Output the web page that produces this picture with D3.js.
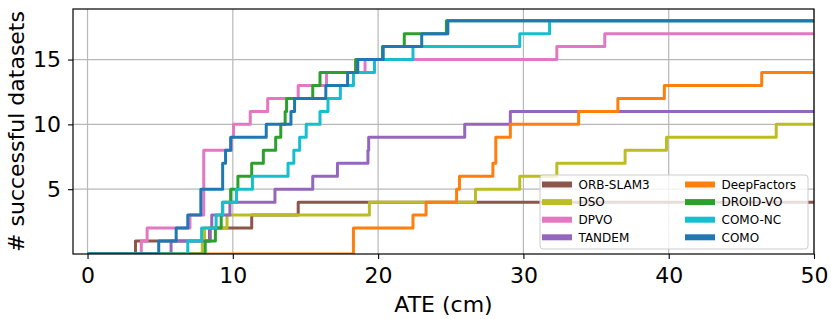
<!DOCTYPE html>
<html>
<head>
<meta charset="utf-8">
<script src="https://cdn.jsdelivr.net/npm/d3@7"></script>
<style>
  body { margin: 0; background: #fff; }
  svg { font-family: "DejaVu Sans", sans-serif; }
</style>
</head>
<body>
<div id="chart"></div>
<script>
// ATE (cm) of every successful dataset, per method (sorted)
const orbSlam3 = [3.3, 8.4, 11.3, 14.5]
const dso = [7.9, 8.05, 9.6, 19.4, 26.7, 29.75, 32.3, 37.0, 39.85, 47.4]
const dpvo = [3.7, 4.1, 7.05, 8.0, 8.0, 8.0, 8.0, 8.0, 9.9, 10.05, 11.2, 12.4, 14.5, 16.45, 19.1, 32.3, 35.6]
const tandem = [5.75, 8.45, 8.55, 9.8, 12.9, 15.5, 17.2, 19.3, 19.35, 25.96, 29.1]
const deepFactors = [18.3, 18.3, 22.4, 23.3, 25.4, 25.6, 27.9, 28.1, 28.1, 29.1, 33.8, 36.5, 39.7, 46.4]
const droidVo = [8.1, 8.8, 9.2, 9.3, 9.85, 10.35, 11.3, 12.1, 12.95, 13.3, 13.6, 13.7, 15.5, 16.0, 18.45, 20.3, 21.8, 24.7]
const comoNc = [6.9, 7.85, 8.85, 9.3, 10.25, 11.35, 13.8, 14.2, 14.6, 15.05, 16.0, 16.55, 17.4, 18.3, 19.75, 22.4, 29.75, 31.8]
const como = [4.9, 6.1, 6.9, 7.8, 7.8, 9.3, 9.3, 9.5, 9.85, 12.3, 14.0, 14.25, 16.4, 17.9, 18.6, 20.35, 23.0, 24.8]

const methods = ["ORB-SLAM3", "DSO", "DPVO", "TANDEM", "DeepFactors", "DROID-VO", "COMO-NC", "COMO"]
const methodValues = [orbSlam3, dso, dpvo, tandem, deepFactors, droidVo, comoNc, como]
const colors = ["#8c564b", "#bcbd22", "#e377c2", "#9467bd", "#ff7f0e", "#2ca02c", "#17becf", "#1f77b4"]

const xTicks = [0, 10, 20, 30, 40, 50]
const yTicks = [5, 10, 15]
const xMax = 50

const W = 831, H = 319
const margin = { top: 9, right: 17, bottom: 65, left: 73 }
const width = W - margin.left - margin.right
const height = H - margin.top - margin.bottom

const svg = d3.select("#chart").append("svg")
   .attr("width", W)
   .attr("height", H)

const g = svg.append("g")
   .attr("transform", "translate(" + margin.left + "," + margin.top + ")")

const x = d3.scaleLinear().domain([-1, xMax]).range([0, width])
const y = d3.scaleLinear().domain([0, 18.9]).range([height, 0])

// grid
g.selectAll("line.vgrid").data(xTicks)
   .join("line")
   .attr("class", "vgrid")
   .attr("x1", d => x(d)).attr("x2", d => x(d))
   .attr("y1", 0).attr("y2", height)
   .attr("stroke", "#b8b8b8").attr("stroke-width", 1.2)

g.selectAll("line.hgrid").data(yTicks)
   .join("line")
   .attr("class", "hgrid")
   .attr("x1", 0).attr("x2", width)
   .attr("y1", d => y(d)).attr("y2", d => y(d))
   .attr("stroke", "#b8b8b8").attr("stroke-width", 1.2)

// clip
svg.append("defs").append("clipPath").attr("id", "plotClip")
   .append("rect").attr("width", width).attr("height", height)

const line = d3.line()
   .x(d => x(d[0]))
   .y(d => y(d[1]))
   .curve(d3.curveStepAfter)

const series = methods.map((name, i) => {
   const pts = [[0, 0]]
   methodValues[i].forEach((v, j) => pts.push([v, j + 1]))
   pts.push([xMax, methodValues[i].length])
   return { name: name, color: colors[i], points: pts }
})

g.append("g").attr("clip-path", "url(#plotClip)")
   .selectAll("path.series").data(series)
   .join("path")
   .attr("class", "series")
   .attr("d", d => line(d.points))
   .attr("fill", "none")
   .attr("stroke", d => d.color)
   .attr("stroke-width", 3)
   .attr("stroke-linejoin", "round")

// axes
const xAxis = g.append("g")
   .attr("transform", "translate(0," + height + ")")
   .call(d3.axisBottom(x).tickValues(xTicks).tickSize(5).tickPadding(8))
const yAxis = g.append("g")
   .call(d3.axisLeft(y).tickValues(yTicks).tickSize(5).tickPadding(7))

;[xAxis, yAxis].forEach(a => {
   a.select(".domain").remove()
   a.selectAll(".tick line").attr("stroke", "#000").attr("stroke-width", 1.1)
   a.selectAll(".tick text")
      .attr("font-family", "DejaVu Sans, sans-serif")
      .attr("font-size", 22)
      .attr("fill", "#000")
})

// frame
g.append("rect")
   .attr("width", width).attr("height", height)
   .attr("fill", "none").attr("stroke", "#000").attr("stroke-width", 1.2)

// labels
svg.append("text")
   .attr("x", margin.left + width / 2)
   .attr("y", 312)
   .attr("text-anchor", "middle")
   .attr("font-size", 22)
   .text("ATE (cm)")

svg.append("text")
   .attr("transform", "translate(24," + (margin.top + height / 2) + ") rotate(-90)")
   .attr("text-anchor", "middle")
   .attr("font-size", 22)
   .text("# successful datasets")

// legend
const legend = svg.append("g").attr("transform", "translate(540,175)")
legend.append("rect")
   .attr("width", 268).attr("height", 74).attr("rx", 3)
   .attr("fill", "#fff").attr("fill-opacity", 0.8)
   .attr("stroke", "#cccccc").attr("stroke-width", 1)

const items = legend.selectAll("g.item").data(series)
   .join("g")
   .attr("class", "item")
   .attr("transform", (d, i) => "translate(" + (i < 4 ? 2 : 145) + "," + (9.5 + (i % 4) * 17.6) + ")")

items.append("line")
   .attr("x1", 0).attr("x2", 30)
   .attr("stroke", d => d.color).attr("stroke-width", 6)

items.append("text")
   .attr("x", 36.5)
   .attr("dy", "0.36em")
   .attr("font-size", 12)
   .text(d => d.name)
</script>
</body>
</html>
